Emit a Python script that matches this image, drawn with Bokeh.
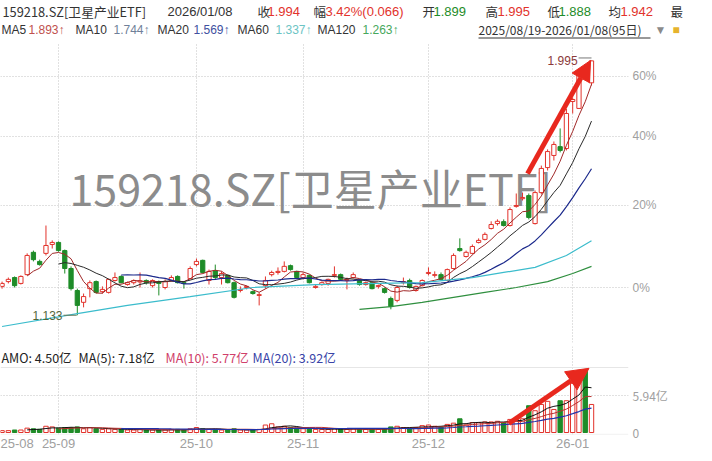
import json
import numpy as np
import pandas as pd
from bokeh.plotting import figure
from bokeh.layouts import column
from bokeh.models import (Range1d, FixedTicker, CustomJSTickFormatter, Arrow,
                          NormalHead, Label, Span, ColumnDataSource)
from bokeh.core.properties import value
from bokeh.embed import file_html
from bokeh.resources import INLINE

# ---------------- data ----------------
symbol = "159218.SZ[卫星产业ETF]"
holidays = ["2025-10-01", "2025-10-02", "2025-10-03", "2025-10-06", "2025-10-07",
            "2025-10-08", "2026-01-01", "2026-01-02"]
dates = [d for d in pd.bdate_range("2025-08-19", "2026-01-08")
         if d.strftime("%Y-%m-%d") not in holidays]

opens = [1.208, 1.221, 1.232, 1.216, 1.240, 1.303, 1.277, 1.300, 1.326, 1.332,
         1.308, 1.257, 1.197, 1.166, 1.202, 1.221, 1.194, 1.192, 1.224, 1.235,
         1.213, 1.218, 1.220, 1.224, 1.210, 1.221, 1.205, 1.224, 1.235, 1.218,
         1.229, 1.268, 1.280, 1.224, 1.251, 1.232, 1.238, 1.218, 1.197, 1.205,
         1.194, 1.184, 1.210, 1.240, 1.246, 1.249, 1.265, 1.249, 1.232, 1.238,
         1.205, 1.213, 1.216, 1.238, 1.240, 1.224, 1.232, 1.224, 1.213, 1.218,
         1.208, 1.202, 1.176, 1.171, 1.218, 1.224, 1.197, 1.210, 1.243, 1.238,
         1.240, 1.224, 1.257, 1.314, 1.291, 1.300, 1.332, 1.341, 1.374, 1.389,
         1.395, 1.383, 1.443, 1.468, 1.478, 1.389, 1.488, 1.573, 1.616, 1.648,
         1.641, 1.822, 1.794, 1.960, 1.899]
highs = [1.221, 1.232, 1.235, 1.238, 1.300, 1.308, 1.282, 1.383, 1.338, 1.335,
         1.311, 1.263, 1.202, 1.189, 1.224, 1.224, 1.208, 1.229, 1.246, 1.238,
         1.221, 1.227, 1.246, 1.227, 1.227, 1.224, 1.227, 1.238, 1.238, 1.221,
         1.263, 1.285, 1.282, 1.254, 1.268, 1.249, 1.240, 1.221, 1.208, 1.210,
         1.197, 1.192, 1.235, 1.251, 1.260, 1.277, 1.268, 1.251, 1.246, 1.240,
         1.213, 1.221, 1.229, 1.263, 1.243, 1.232, 1.246, 1.227, 1.221, 1.221,
         1.213, 1.205, 1.181, 1.210, 1.232, 1.229, 1.210, 1.227, 1.260, 1.249,
         1.246, 1.257, 1.300, 1.344, 1.308, 1.326, 1.344, 1.362, 1.396, 1.402,
         1.402, 1.440, 1.485, 1.488, 1.485, 1.495, 1.580, 1.638, 1.667, 1.716,
         1.792, 1.838, 1.947, 1.969, 1.995]
lows = [1.202, 1.216, 1.205, 1.213, 1.238, 1.277, 1.265, 1.294, 1.314, 1.305,
        1.243, 1.197, 1.133, 1.153, 1.179, 1.189, 1.189, 1.189, 1.221, 1.216,
        1.210, 1.213, 1.205, 1.213, 1.205, 1.184, 1.200, 1.221, 1.216, 1.202,
        1.227, 1.263, 1.243, 1.213, 1.227, 1.213, 1.216, 1.176, 1.192, 1.200,
        1.186, 1.158, 1.202, 1.235, 1.240, 1.246, 1.251, 1.229, 1.227, 1.216,
        1.202, 1.210, 1.210, 1.232, 1.224, 1.200, 1.229, 1.210, 1.210, 1.200,
        1.202, 1.189, 1.148, 1.166, 1.213, 1.202, 1.194, 1.208, 1.238, 1.232,
        1.224, 1.221, 1.254, 1.305, 1.288, 1.297, 1.329, 1.338, 1.371, 1.383,
        1.380, 1.380, 1.439, 1.462, 1.402, 1.386, 1.482, 1.563, 1.598, 1.627,
        1.634, 1.774, 1.792, 1.909, 1.888]
closes = [1.216, 1.227, 1.210, 1.235, 1.294, 1.282, 1.268, 1.323, 1.332, 1.308,
          1.257, 1.202, 1.158, 1.181, 1.218, 1.192, 1.200, 1.227, 1.232, 1.218,
          1.218, 1.224, 1.223, 1.218, 1.224, 1.216, 1.221, 1.232, 1.218, 1.216,
          1.257, 1.277, 1.246, 1.249, 1.232, 1.243, 1.218, 1.179, 1.200, 1.208,
          1.189, 1.186, 1.224, 1.246, 1.249, 1.263, 1.254, 1.232, 1.240, 1.218,
          1.208, 1.218, 1.227, 1.240, 1.227, 1.226, 1.240, 1.213, 1.218, 1.202,
          1.210, 1.192, 1.155, 1.205, 1.221, 1.205, 1.208, 1.224, 1.246, 1.240,
          1.227, 1.254, 1.294, 1.308, 1.303, 1.320, 1.338, 1.356, 1.386, 1.396,
          1.383, 1.433, 1.446, 1.472, 1.408, 1.488, 1.570, 1.630, 1.656, 1.634,
          1.774, 1.830, 1.939, 1.928, 1.994]
volumes = [0.3, 0.3, 0.4, 0.4, 0.7, 0.6, 0.5, 1.0, 0.9, 0.7,
           0.8, 0.8, 0.9, 0.6, 0.8, 0.6, 0.5, 0.6, 0.5, 0.5,
           0.4, 0.4, 0.5, 0.4, 0.4, 0.4, 0.4, 0.5, 0.5, 0.4,
           0.6, 0.8, 0.6, 0.5, 0.5, 0.4, 0.4, 0.6, 0.4, 0.4,
           0.4, 0.5, 1.2, 1.4, 0.9, 1.0, 0.8, 0.7, 0.6, 0.6,
           0.5, 0.5, 0.5, 0.6, 0.5, 0.5, 0.6, 0.5, 0.5, 0.6,
           0.5, 0.6, 0.9, 1.0, 0.8, 0.7, 0.8, 1.1, 1.2, 1.0,
           0.9, 1.3, 1.5, 2.2, 1.2, 1.6, 1.6, 1.7, 1.7, 1.8,
           1.6, 2.1, 2.1, 2.2, 4.3, 3.5, 4.5, 5.0, 3.7, 5.1,
           5.1, 7.9, 8.3, 10.1, 4.5]          # 亿
avg_price = 1.942
base_price = 1.205
pct_ticks = [0, 20, 40, 60]
vol_ticks = [0, 5.94]
ma60_idx = [0, 12, 20, 30, 40, 50, 60, 67, 75, 80, 85, 90, 94]
ma60_val = [1.105, 1.137, 1.158, 1.181, 1.205, 1.213, 1.216, 1.218, 1.232, 1.246, 1.260, 1.294, 1.337]
ma120_idx = [57, 62, 67, 72, 77, 82, 87, 91, 94]
ma120_val = [1.148, 1.155, 1.166, 1.179, 1.192, 1.205, 1.221, 1.243, 1.263]

# ---------------- derived ----------------
N = len(closes)
idx = np.arange(N)
cs = pd.Series(closes)
ma5 = cs.rolling(5).mean()
ma10 = cs.rolling(10).mean()
ma20 = cs.rolling(20).mean()
vs = pd.Series(volumes)
vma5 = vs.rolling(5).mean()
vma10 = vs.rolling(10).mean()
vma20 = vs.rolling(20).mean()

RED = "#e2322b"
GREEN = "#1e8c28"
DARK = "#333333"
CJK = "Noto Sans CJK SC"
LAT = "Liberation Sans"
up = [c >= o for o, c in zip(opens, closes)]
src = ColumnDataSource(dict(
    x=idx, h=highs, l=lows,
    top=np.maximum(opens, closes), bot=np.minimum(opens, closes),
    col=[RED if u else GREEN for u in up],
    fill=["white" if u else GREEN for u in up],
    vol=volumes,
))
month_idx = [i for i in range(N) if i == 0 or dates[i].month != dates[i - 1].month]
month_lab = {str(i): dates[i].strftime("%y-%m") for i in month_idx}

PX0, PXS = 1.57, 6.27          # screen layout of day slots


def px2i(px):
    return (px - PX0) / PXS


def has_cjk(s):
    return any(ord(ch) >= 0x2E80 for ch in s)


x_rng = Range1d(-0.25, 99.9)

# ---------------- header ----------------
p0 = figure(width=704, height=42, x_range=Range1d(0, 704), y_range=Range1d(42, 0),
            toolbar_location=None, output_backend="svg", x_axis_location=None,
            y_axis_location=None, min_border=0, outline_line_color=None, title=None)
p0.grid.visible = False

chg = closes[-1] - closes[-2]
pct = chg / closes[-2] * 100
line1 = [(2, symbol, DARK), (167, dates[-1].strftime("%Y/%m/%d"), DARK),
         (257, "收", DARK), (267, f"{closes[-1]:.3f}", RED),
         (313, "幅", DARK), (325, f"{pct:.2f}%({chg:.3f})", RED),
         (422, "开", DARK), (433, f"{opens[-1]:.3f}", GREEN),
         (485, "高", DARK), (497, f"{highs[-1]:.3f}", RED),
         (547, "低", DARK), (558, f"{lows[-1]:.3f}", GREEN),
         (608, "均", DARK), (620, f"{avg_price:.3f}", RED),
         (670, "最", DARK)]
rng_txt = f"{dates[0]:%Y/%m/%d}-{dates[-1]:%Y/%m/%d}({N}日)"
line2 = [(1, "MA5", DARK), (28, f"{ma5.iloc[-1]:.3f}↑", "#c0504d"),
         (75, "MA10", DARK), (113, f"{ma10.iloc[-1]:.3f}↑", "#6f7f99"),
         (157, "MA20", DARK), (193, f"{ma20.iloc[-1]:.3f}↑", "#4050a0"),
         (237, "MA60", DARK), (275, f"{ma60_val[-1]:.3f}↑", "#6cc4c4"),
         (317, "MA120", DARK), (362, f"{ma120_val[-1]:.3f}↑", "#46a85c"),
         (478, rng_txt, DARK), (654, "▼", "#8a8a8a"), (672, "■", "#e6b32e")]

for yy, items, lat_size, cjk_size in ((11, line1, "13px", "12.5px"), (29, line2, "12px", "12px")):
    for x0, txt, colr in items:
        cj = has_cjk(txt)
        if txt == symbol:
            size = "12.8px"
        else:
            size = cjk_size if cj else lat_size
        p0.add_layout(Label(x=x0, y=yy, text=txt, text_color=colr,
                            text_font=CJK if cj else LAT, text_font_size=size,
                            text_baseline="middle", text_align="left"))
p0.add_layout(Arrow(end=None, x_start=478, y_start=37.5, x_end=650, y_end=37.5,
                    line_color=DARK, line_width=1))

# ---------------- main price panel ----------------
p1 = figure(width=704, height=304, x_range=x_rng, y_range=Range1d(1.0664, 2.0771),
            y_axis_type="log", y_axis_location="right", x_axis_location=None,
            toolbar_location=None, output_backend="svg", min_border_left=0,
            min_border_right=76, min_border_top=0, min_border_bottom=4,
            outline_line_color=None, title=None)
pt = FixedTicker(ticks=[base_price * (1 + t / 100) for t in pct_ticks])
ax = p1.yaxis[0]
ax.ticker = pt
ax.formatter = CustomJSTickFormatter(code=f"return Math.round((tick/{base_price}-1)*100) + '%';")
ax.axis_line_color = None
ax.major_tick_line_color = None
ax.minor_tick_line_color = None
ax.major_tick_out = 0
ax.major_tick_in = 0
ax.minor_tick_out = 0
ax.major_label_standoff = 4
ax.major_label_text_color = "#a0a0a0"
ax.major_label_text_font = LAT
ax.major_label_text_font_size = "12px"
p1.ygrid.ticker = pt
p1.xgrid.ticker = FixedTicker(ticks=month_idx[1:])
for g in (p1.xgrid, p1.ygrid):
    g.grid_line_color = "#c2c2c2"
    g.grid_line_dash = "1 2"

p1.add_layout(Label(x=px2i(69), y=1.505, text=symbol, text_font=CJK,
                    text_font_size="43px", text_color="#8c8c8c", text_baseline="middle",
                    level="underlay"))

p1.segment(x0="x", y0="l", x1="x", y1="h", line_color="col", source=src)
p1.vbar(x="x", width=0.68, top="top", bottom="bot", fill_color="fill",
        line_color="col", line_width=1, source=src)

p1.line(idx, ma5, line_color="#a02828", line_width=1)
p1.line(idx, ma10, line_color="#2a2a2a", line_width=1)
p1.line(idx, ma20, line_color="#1c2a8c", line_width=1.2)
p1.line(ma60_idx, ma60_val, line_color="#3bbccc", line_width=1.2)
p1.line(ma120_idx, ma120_val, line_color="#2f8f3f", line_width=1.2)

lo_i = int(np.argmin(lows))
hi_i = int(np.argmax(highs))
p1.text(x=[px2i(62)], y=[lows[lo_i]], text=[f"{lows[lo_i]:.3f}"], text_color="#55663a",
        text_font=value(LAT), text_font_size=value("12px"),
        text_align="right", text_baseline="middle")
p1.segment(x0=[px2i(63)], y0=[lows[lo_i]], x1=[lo_i - 0.1], y1=[lows[lo_i]],
           line_color="#667755", line_width=1)
p1.text(x=[px2i(577)], y=[highs[hi_i]], text=[f"{highs[hi_i]:.3f}"], text_color="#8b3a3a",
        text_font=value(LAT), text_font_size=value("12px"),
        text_align="right", text_baseline="middle")
p1.segment(x0=[px2i(578)], y0=[highs[hi_i] * 1.006], x1=[hi_i], y1=[highs[hi_i] * 1.006],
           line_color="#777777", line_width=1)

p1.add_layout(Arrow(end=NormalHead(size=20, fill_color="#e8281e", line_color="#e8281e"),
                    x_start=83.8, y_start=1.552, x_end=93.85, y_end=1.996,
                    line_color="#e8281e", line_width=5))

# ---------------- volume panel ----------------
p2 = figure(width=704, height=107, x_range=x_rng, y_range=Range1d(-0.32, 13.8),
            y_axis_location="right", toolbar_location=None, output_backend="svg",
            min_border_left=0, min_border_right=76, min_border_top=0,
            min_border_bottom=19, outline_line_color=None, title=None)
xa = p2.xaxis[0]
xa.ticker = FixedTicker(ticks=month_idx)
xa.formatter = CustomJSTickFormatter(
    code="const m = " + json.dumps(month_lab) + "; return m[String(Math.round(tick))] || '';")
xa.major_label_text_align = "left"
xa.major_label_standoff = 4
xa.axis_line_color = None
xa.major_tick_line_color = None
xa.minor_tick_line_color = None
xa.major_tick_out = 0
xa.major_tick_in = 0
xa.minor_tick_out = 0
xa.major_label_text_color = "#a0a0a0"
xa.major_label_text_font = LAT
xa.major_label_text_font_size = "13px"

ya = p2.yaxis[0]
ya.ticker = FixedTicker(ticks=vol_ticks)
ya.formatter = CustomJSTickFormatter(code="return tick == 0 ? '0' : tick.toFixed(2) + '亿';")
ya.axis_line_color = None
ya.major_tick_line_color = None
ya.minor_tick_line_color = None
ya.major_tick_out = 0
ya.major_tick_in = 0
ya.minor_tick_out = 0
ya.major_label_standoff = 4
ya.major_label_text_color = "#a0a0a0"
ya.major_label_text_font = CJK
ya.major_label_text_font_size = "12px"
p2.ygrid.ticker = FixedTicker(ticks=[v for v in vol_ticks if v > 0])
p2.xgrid.ticker = FixedTicker(ticks=month_idx[1:])
for g in (p2.xgrid, p2.ygrid):
    g.grid_line_color = "#c2c2c2"
    g.grid_line_dash = "1 2"
p2.add_layout(Span(location=10.43, dimension="width", line_color="#e6e6e6", line_width=1))
p2.add_layout(Span(location=-0.3, dimension="width", line_color="#e6e6e6", line_width=1))

p2.vbar(x="x", width=0.7, top="vol", bottom=0, fill_color="fill", line_color="col",
        line_width=1, source=src)
p2.line(idx, vma5, line_color="#111111", line_width=1)
p2.line(idx, vma10, line_color="#b8302e", line_width=1)
p2.line(idx, vma20, line_color="#2233aa", line_width=1.2)

vhead = [(1, f"AMO: {volumes[-1]:.2f}亿", "#222222"),
         (78, f"MA(5): {vma5.iloc[-1]:.2f}亿", "#222222"),
         (165, f"MA(10): {vma10.iloc[-1]:.2f}亿", "#d0406a"),
         (252, f"MA(20): {vma20.iloc[-1]:.2f}亿", "#3a44a8")]
p2.text(x=[px2i(a[0]) for a in vhead], y=[12.0] * len(vhead), text=[a[1] for a in vhead],
        text_color=[a[2] for a in vhead], text_font=value(CJK),
        text_font_size=value("12.5px"), text_baseline="middle", text_align="left")

p2.add_layout(Arrow(end=NormalHead(size=22, fill_color="#e8281e", line_color="#e8281e"),
                    x_start=80.8, y_start=1.44, x_end=93.6, y_end=10.3,
                    line_color="#e8281e", line_width=5))

layout = column(p0, column(p1, p2, spacing=0), spacing=0)
open("out.html", "w").write(file_html(layout, INLINE))
